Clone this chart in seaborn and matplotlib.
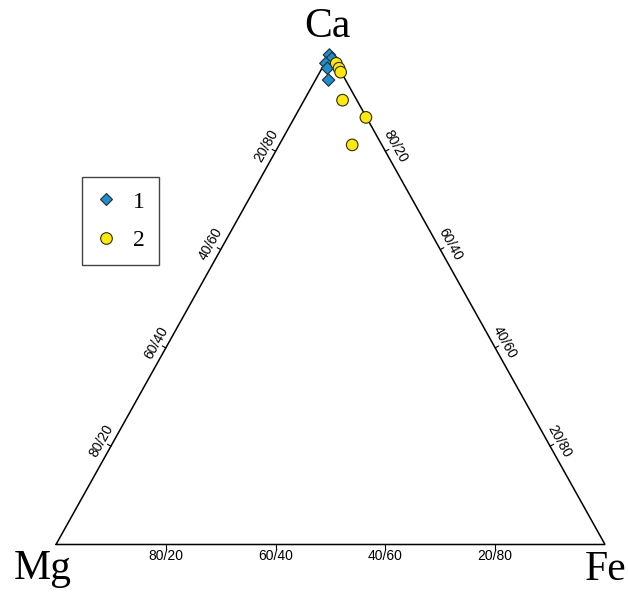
import matplotlib
matplotlib.use("Agg")
import matplotlib.pyplot as plt
import seaborn as sns
import numpy as np
import pandas as pd

# ---- data (Ca, Mg, Fe in %) ----
g1_ca = [99.6, 98.9, 97.9, 96.9, 94.5]
g1_mg = [0.4, 0.3, 1.9, 2.1, 3.1]
g1_fe = [0.0, 0.8, 0.2, 1.0, 2.4]

g2_ca = [97.9, 96.9, 96.1, 90.4, 86.9, 81.3]
g2_mg = [0.0, 0.0, 0.1, 2.6, 0.1, 5.4]
g2_fe = [2.1, 3.1, 3.8, 7.0, 13.0, 13.3]

groups = ["1", "2"]
tick_fracs = [20, 40, 60, 80]
vertex_labels = ["Ca", "Mg", "Fe"]

# ---- layout (pixel frame) ----
W, H = 628, 596
MG = np.array([56.0, 544.5])
FE = np.array([605.0, 544.5])
CA = np.array([330.5, 53.0])


def to_xy(ca, mg, fe):
    ca, mg, fe = (np.asarray(v, float) for v in (ca, mg, fe))
    s = ca + mg + fe
    ca, mg, fe = ca / s, mg / s, fe / s
    x = mg * MG[0] + fe * FE[0] + ca * CA[0]
    y = mg * MG[1] + fe * FE[1] + ca * CA[1]
    return x, y


x1, y1 = to_xy(g1_ca, g1_mg, g1_fe)
x2, y2 = to_xy(g2_ca, g2_mg, g2_fe)
df = pd.DataFrame({
    "x": np.concatenate([x1, x2]),
    "y": np.concatenate([y1, y2]),
    "group": [groups[0]] * len(x1) + [groups[1]] * len(x2),
})

sns.set_style("white")
plt.rcParams["text.color"] = "black"
fig = plt.figure(figsize=(W / 100, H / 100), dpi=100)
ax = fig.add_axes([0, 0, 1, 1])
ax.set_xlim(0, W)
ax.set_ylim(H, 0)
ax.axis("off")

# triangle
tri = np.array([MG, FE, CA, MG])
ax.plot(tri[:, 0], tri[:, 1], color="black", lw=1.1, solid_joinstyle="miter", zorder=1)

sans = "Liberation Sans"
serif = "Liberation Serif"


def edge_ticks(A, B, labels_fn, rot):
    d = B - A
    L = np.hypot(*d)
    u = d / L
    n = np.array([u[1], -u[0]])  # normal
    cen = (MG + FE + CA) / 3
    mid = (A + B) / 2
    if np.dot(n, mid - cen) < 0:
        n = -n
    for t in tick_fracs:
        p = A + (t / 100) * d
        q = p + n * 4
        ax.plot([p[0], q[0]], [p[1], q[1]], color="black", lw=0.8, zorder=1)
        lp = p + n * 11
        ax.text(lp[0], lp[1], labels_fn(t), fontsize=10, family=sans, color="black",
                rotation=rot, rotation_mode="anchor", ha="center", va="center")


ang = np.degrees(np.arctan2(MG[1] - CA[1], CA[0] - MG[0]))
edge_ticks(MG, CA, lambda t: f"{100 - t}/{t}", ang)
edge_ticks(FE, CA, lambda t: f"{t}/{100 - t}", -ang)
edge_ticks(MG, FE, lambda t: f"{100 - t}/{t}", 0)

# points
sns.scatterplot(data=df, x="x", y="y", hue="group", style="group", size="group",
                 hue_order=groups, style_order=groups, size_order=groups,
                 palette={"1": "#1b8fd3", "2": "#ffea00"},
                 markers={"1": "D", "2": "o"}, sizes={"1": 40, "2": 70},
                 edgecolor="#2a2a2a", linewidth=0.8, ax=ax, zorder=3, clip_on=False)
ax.set_xlim(0, W)
ax.set_ylim(H, 0)
ax.axis("off")

leg = ax.legend(loc="upper left", bbox_to_anchor=(82 / W, 1 - 177 / H),
                bbox_transform=ax.transAxes, borderaxespad=0,
                frameon=True, fancybox=False, framealpha=1, edgecolor="#444444",
                prop={"family": serif, "size": 17}, labelspacing=0.72,
                handletextpad=0.75, borderpad=0.6, handlelength=0.8, markerscale=1.0)
leg.get_frame().set_linewidth(1.0)
for t in leg.get_texts():
    t.set_color("black")

# vertex labels
ax.text(327, 37, vertex_labels[0], fontsize=30, family=serif, color="black", ha="center", va="baseline")
ax.text(43, 579, vertex_labels[1], fontsize=30, family=serif, color="black", ha="center", va="baseline")
ax.text(606, 580, vertex_labels[2], fontsize=30, family=serif, color="black", ha="center", va="baseline")

fig.savefig("out.png", dpi=100)
